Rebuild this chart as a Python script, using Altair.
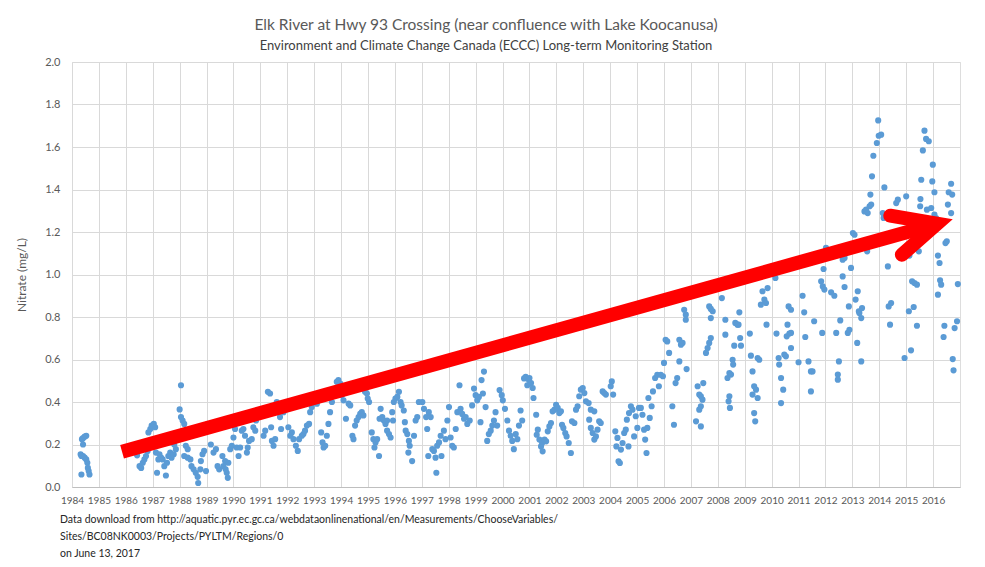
import altair as alt
import pandas as pd

# ---- data: sample date (decimal year) and nitrate (mg/L) ----
yr_a = [1984.35, 1984.37, 1984.41, 1984.47, 1984.53, 1984.41, 1984.32, 1984.41, 1984.47, 1984.53,
        1984.57, 1984.59, 1984.62, 1984.65, 1984.35,
        1986.42, 1986.51, 1986.57, 1986.63, 1986.69, 1986.75, 1986.81, 1986.84, 1986.91, 1986.96,
        1987.04, 1987.09, 1987.12, 1987.16, 1987.21, 1987.25, 1987.31, 1987.37, 1987.43, 1987.49,
        1987.53, 1987.58, 1987.65, 1987.70, 1987.78, 1987.80, 1987.86,
        1988.00, 1988.05, 1988.05, 1988.11, 1988.17, 1988.23, 1988.30, 1988.17, 1988.30, 1988.40,
        1988.44, 1988.52, 1988.60, 1988.67, 1988.69, 1988.77, 1988.79, 1988.85, 1988.91, 1988.98,
        1989.16, 1989.26, 1989.35, 1989.41, 1989.47]
no3_a = [0.059, 0.225, 0.230, 0.237, 0.241, 0.200, 0.154, 0.146, 0.138, 0.130,
         0.114, 0.090, 0.075, 0.059, 0.146,
         0.149, 0.098, 0.090, 0.114, 0.130, 0.146, 0.170, 0.257, 0.273, 0.289,
         0.297, 0.281, 0.162, 0.067, 0.130, 0.154, 0.138, 0.130, 0.098, 0.054,
         0.114, 0.146, 0.162, 0.138, 0.154, 0.200, 0.178,
         0.365, 0.479, 0.329, 0.313, 0.297, 0.194, 0.178, 0.146, 0.138, 0.130,
         0.098, 0.083, 0.067, 0.048, 0.019, 0.083, 0.122, 0.154, 0.170, 0.075,
         0.200, 0.162, 0.178, 0.098, 0.083]

yr_b = [1989.59, 1989.63, 1989.69, 1989.75, 1989.79, 1989.71, 1989.81, 1989.88, 1989.94, 1990.00,
        1990.06, 1990.12, 1990.19, 1990.25, 1990.31, 1990.37, 1990.43, 1990.50, 1990.53, 1990.58,
        1990.68, 1990.74, 1990.81, 1990.84, 1990.93, 1990.99, 1991.12, 1991.18, 1991.28, 1991.36,
        1991.40, 1991.43, 1991.49, 1991.55, 1991.61, 1991.67, 1991.73, 1991.77, 1991.86, 1991.92,
        1992.04, 1992.11, 1992.17, 1992.23, 1992.32, 1992.39, 1992.44, 1992.54, 1992.60, 1992.66,
        1992.73, 1992.81, 1992.85, 1992.91, 1993.01, 1993.10, 1993.18, 1993.26, 1993.31, 1993.35,
        1993.41, 1993.47, 1993.53, 1993.59, 1993.66, 1993.84, 1993.90, 1993.97, 1994.03, 1994.09,
        1994.18, 1994.28, 1994.34, 1994.42, 1994.46, 1994.52, 1994.58, 1994.65, 1994.71, 1994.77,
        1994.83, 1994.89, 1994.96, 1994.99, 1995.04, 1995.14, 1995.20, 1995.24]
no3_b = [0.146, 0.098, 0.122, 0.067, 0.043, 0.083, 0.114, 0.178, 0.194, 0.233,
         0.273, 0.186, 0.146, 0.186, 0.265, 0.273, 0.241, 0.162, 0.186, 0.217,
         0.225, 0.281, 0.265, 0.313, 0.329, 0.344, 0.241, 0.265, 0.448, 0.440,
         0.281, 0.217, 0.194, 0.225, 0.400, 0.352, 0.329, 0.273, 0.352, 0.368,
         0.281, 0.241, 0.257, 0.225, 0.194, 0.170, 0.225, 0.241, 0.249, 0.265,
         0.289, 0.297, 0.352, 0.376, 0.400, 0.392, 0.416, 0.257, 0.210, 0.186,
         0.194, 0.241, 0.297, 0.352, 0.400, 0.495, 0.503, 0.487, 0.432, 0.408,
         0.321, 0.392, 0.384, 0.241, 0.225, 0.289, 0.313, 0.329, 0.344, 0.352,
         0.337, 0.448, 0.440, 0.416, 0.400, 0.257, 0.225, 0.186]

yr_c = [1995.28, 1995.34, 1995.41, 1995.43, 1995.47, 1995.53, 1995.59, 1995.65, 1995.71, 1995.78,
        1995.84, 1995.71, 1995.90, 1995.93, 1995.96, 1996.02, 1996.09, 1996.15, 1996.21, 1996.25,
        1996.33, 1996.37, 1996.40, 1996.46, 1996.52, 1996.55, 1996.50, 1996.64, 1996.71, 1996.77,
        1996.83, 1996.89, 1997.02, 1997.08, 1997.16, 1997.20, 1997.26, 1997.33, 1997.24, 1997.39,
        1997.45, 1997.51, 1997.54, 1997.57, 1997.64, 1997.70, 1997.73, 1997.82, 1997.88, 1997.95,
        1998.01, 1998.07, 1998.13, 1998.19, 1998.26, 1998.32, 1998.40, 1998.44, 1998.50, 1998.57,
        1998.63, 1998.69, 1998.78, 1998.87, 1998.94, 1999.00, 1999.06, 1999.12, 1999.18, 1999.22,
        1999.27, 1999.31, 1999.37, 1999.43, 1999.49, 1999.56, 1999.62, 1999.68, 1999.74, 1999.80,
        1999.89, 1999.97, 2000.01, 2000.09, 2000.18, 2000.24, 2000.30, 2000.36, 2000.42, 2000.49,
        2000.55, 2000.61, 2000.67, 2000.73, 2000.80, 2000.86, 2000.92, 2000.98]
no3_c = [0.210, 0.225, 0.146, 0.321, 0.368, 0.329, 0.313, 0.297, 0.265, 0.249,
         0.233, 0.313, 0.352, 0.313, 0.400, 0.416, 0.424, 0.448, 0.400, 0.384,
         0.360, 0.305, 0.265, 0.249, 0.217, 0.194, 0.162, 0.122, 0.241, 0.313,
         0.329, 0.400, 0.400, 0.368, 0.329, 0.273, 0.352, 0.329, 0.146, 0.178,
         0.170, 0.138, 0.067, 0.194, 0.210, 0.241, 0.146, 0.265, 0.225, 0.313,
         0.376, 0.233, 0.194, 0.186, 0.273, 0.352, 0.479, 0.368, 0.344, 0.321,
         0.329, 0.297, 0.313, 0.384, 0.463, 0.432, 0.408, 0.424, 0.305, 0.503,
         0.440, 0.543, 0.376, 0.217, 0.249, 0.265, 0.289, 0.313, 0.352, 0.289,
         0.456, 0.432, 0.408, 0.368, 0.313, 0.265, 0.241, 0.217, 0.178, 0.249,
         0.225, 0.289, 0.360, 0.313, 0.511, 0.519, 0.479, 0.503]

yr_d = [2001.00, 2001.06, 2001.12, 2001.15, 2001.25, 2001.31, 2001.27, 2001.37, 2001.43, 2001.49,
        2001.47, 2001.56, 2001.62, 2001.68, 2001.74, 2001.80, 2001.86, 2001.93, 2001.99, 2002.05,
        2002.11, 2002.17, 2002.21, 2002.26, 2002.33, 2002.38, 2002.46, 2002.54, 2002.58, 2002.67,
        2002.73, 2002.79, 2002.85, 2002.91, 2002.98, 2003.04, 2003.10, 2003.20, 2003.28, 2003.22,
        2003.41, 2003.28, 2003.35, 2003.41, 2003.47, 2003.53, 2003.59, 2003.65, 2003.72, 2003.78,
        2003.84, 2004.02, 2004.06, 2004.11, 2004.19, 2004.23, 2004.27, 2004.31, 2004.36, 2004.40,
        2004.46, 2004.52, 2004.58, 2004.62, 2004.68, 2004.70, 2004.77, 2004.83, 2004.89, 2004.95,
        2005.01, 2005.07, 2005.14, 2005.20, 2005.26, 2005.30, 2005.35, 2005.38, 2005.42, 2005.47,
        2005.54, 2005.59, 2005.67, 2005.75, 2005.81, 2005.88, 2005.96, 2006.00, 2006.06, 2006.12,
        2006.19, 2006.31, 2006.37, 2006.43, 2006.49]
no3_d = [0.513, 0.489, 0.466, 0.419, 0.340, 0.270, 0.246, 0.223, 0.191, 0.168,
         0.207, 0.223, 0.215, 0.262, 0.285, 0.301, 0.356, 0.364, 0.387, 0.372,
         0.348, 0.356, 0.293, 0.278, 0.254, 0.238, 0.207, 0.160, 0.309, 0.301,
         0.364, 0.380, 0.427, 0.458, 0.466, 0.442, 0.403, 0.395, 0.364, 0.317,
         0.356, 0.278, 0.254, 0.223, 0.238, 0.270, 0.309, 0.301, 0.450, 0.442,
         0.435, 0.474, 0.497, 0.435, 0.262, 0.191, 0.231, 0.121, 0.113, 0.176,
         0.207, 0.254, 0.270, 0.317, 0.191, 0.348, 0.380, 0.364, 0.238, 0.333,
         0.278, 0.372, 0.372, 0.340, 0.270, 0.223, 0.160, 0.278, 0.419, 0.325,
         0.380, 0.450, 0.513, 0.528, 0.474, 0.528, 0.521, 0.584, 0.693, 0.685,
         0.631, 0.380, 0.293, 0.489, 0.513]

yr_e = [2006.57, 2006.63, 2006.69, 2006.75, 2006.81, 2006.81, 2006.57, 2006.84, 2007.25, 2007.31,
        2007.37, 2007.43, 2007.46, 2007.37, 2007.31, 2007.19, 2007.37, 2007.56, 2007.62, 2007.68,
        2007.74, 2007.68, 2007.74, 2007.74, 2007.81, 2008.15, 2008.28, 2008.28, 2008.36, 2008.43,
        2008.49, 2008.55, 2008.57, 2008.43, 2008.40, 2008.45, 2008.65, 2008.73, 2008.80, 2008.77,
        2008.83, 2008.61, 2008.86, 2009.19, 2009.23, 2009.29, 2009.35, 2009.42, 2009.48, 2009.29,
        2009.35, 2009.39, 2009.48, 2009.54, 2009.60, 2009.66, 2009.73, 2009.79, 2009.85, 2009.81,
        2010.14, 2010.18, 2010.26, 2010.28, 2010.35, 2010.43, 2010.35, 2010.47, 2010.53, 2010.56,
        2010.59, 2010.66, 2010.72, 2010.72, 2010.63, 2010.72, 2011.00, 2011.15, 2011.21, 2011.25,
        2011.37, 2011.46, 2011.52, 2011.46, 2011.58]
no3_e = [0.693, 0.670, 0.678, 0.834, 0.811, 0.787, 0.591, 0.555, 0.474, 0.435,
         0.427, 0.411, 0.489, 0.380, 0.364, 0.309, 0.285, 0.631, 0.654, 0.678,
         0.701, 0.850, 0.838, 0.795, 0.827, 0.889, 0.787, 0.717, 0.513, 0.536,
         0.529, 0.599, 0.576, 0.427, 0.403, 0.372, 0.772, 0.764, 0.822, 0.764,
         0.701, 0.665, 0.665, 0.722, 0.618, 0.544, 0.474, 0.458, 0.419, 0.435,
         0.348, 0.309, 0.607, 0.599, 0.858, 0.921, 0.882, 0.866, 0.936, 0.764,
         0.984, 0.722, 0.607, 0.576, 0.513, 0.458, 0.395, 0.623, 0.615, 0.709,
         0.764, 0.722, 0.725, 0.654, 0.850, 0.834, 0.587, 0.900, 0.822, 0.706,
         0.591, 0.544, 0.544, 0.450, 0.780]

yr_f = [2011.84, 2011.90, 2011.96, 2012.02, 2011.93, 2011.88, 2012.21, 2012.33, 2012.40, 2012.46,
        2012.46, 2012.50, 2012.55, 2012.64, 2012.64, 2012.71, 2012.71, 2012.83, 2012.89, 2012.87,
        2012.95, 2013.02, 2013.08, 2013.12, 2013.20, 2013.24, 2013.26, 2013.33, 2013.36, 2013.18,
        2013.33, 2013.45, 2013.51, 2013.55, 2013.57, 2013.64, 2013.70, 2013.67, 2013.73, 2013.78,
        2013.91, 2013.98, 2014.07, 2013.96, 2014.13, 2014.16, 2014.19, 2014.32, 2014.35, 2014.44,
        2014.40, 2014.63, 2014.69, 2015.00, 2014.94, 2015.10, 2015.18, 2015.12, 2015.22, 2015.31,
        2015.40, 2015.28, 2015.40, 2015.47, 2015.52, 2015.53, 2015.56, 2015.62, 2015.68, 2015.74,
        2015.84, 2015.77, 2015.93, 2015.97, 2015.99, 2016.05, 2016.05, 2016.11, 2016.18, 2016.24,
        2016.26, 2016.30, 2016.18, 2016.46, 2016.51, 2016.55, 2016.58, 2016.67, 2016.71, 2016.67,
        2016.39, 2016.42, 2016.73, 2016.76, 2016.80, 2016.89, 2016.92]
no3_f = [0.968, 0.944, 0.929, 1.125, 1.026, 0.725, 0.916, 0.900, 0.725, 0.529,
         0.505, 0.591, 0.784, 0.991, 1.070, 0.941, 1.078, 0.725, 0.740, 0.850,
         1.031, 1.195, 1.187, 0.882, 0.921, 0.827, 0.819, 0.795, 0.842, 0.678,
         0.591, 1.297, 1.305, 1.109, 1.289, 1.321, 1.329, 1.376, 1.462, 1.559,
         1.619, 1.653, 1.658, 1.725, 1.289, 1.266, 1.410, 1.038, 0.850, 0.866,
         0.764, 1.336, 1.352, 1.368, 0.607, 0.827, 0.643, 1.089, 0.968, 0.960,
         0.952, 0.847, 0.759, 1.109, 1.321, 1.355, 1.446, 1.584, 1.677, 1.638,
         1.627, 1.305, 1.313, 1.438, 1.517, 1.387, 1.282, 1.266, 1.089, 1.054,
         0.973, 0.952, 0.905, 1.148, 1.156, 1.329, 1.387, 1.427, 1.376, 1.289,
         0.706, 0.759, 0.602, 0.549, 0.748, 0.780, 0.955]

# red trend arrow (annotation), in data units
shaft_x = [1985.86, 2016.15]
shaft_y = [0.166, 1.239]
head_x = [2014.41, 2016.15, 2014.84]
head_y = [1.277, 1.239, 1.093]

x_ticks = list(range(1984, 2017))
y_ticks = [0.0, 0.2, 0.4, 0.6, 0.8, 1.0, 1.2, 1.4, 1.6, 1.8, 2.0]

footnote = [
    "Data download from http://aquatic.pyr.ec.gc.ca/webdataonlinenational/en/Measurements/ChooseVariables/",
    "Sites/BC08NK0003/Projects/PYLTM/Regions/0",
    "on June 13, 2017",
]

# ---- build ----
years = yr_a + yr_b + yr_c + yr_d + yr_e + yr_f
vals = no3_a + no3_b + no3_c + no3_d + no3_e + no3_f
df = pd.DataFrame({"year": years, "nitrate": vals})
shaft = pd.DataFrame({"year": [shaft_x[0]], "nitrate": [shaft_y[0]],
                      "year2": [shaft_x[1]], "nitrate2": [shaft_y[1]]})
head = pd.DataFrame({"year": head_x, "nitrate": head_y, "o": [0, 1, 2]})

FONT = "Lato"
GREY = "#595959"
GRID = "#D9D9D9"

xscale = alt.Scale(domain=[1984, 2017], nice=False, zero=False)
yscale = alt.Scale(domain=[0, 2], nice=False, zero=True)
xaxis = alt.Axis(values=x_ticks, format="d", title=None, labelFontSize=10,
                 labelColor=GREY, labelFont=FONT, grid=True, gridColor=GRID,
                 ticks=False, domainColor="#BFBFBF", labelPadding=8,
                 labelFlush=False, labelOverlap=False, labelSeparation=0)
yaxis = alt.Axis(values=y_ticks, format=".1f", title="Nitrate (mg/L)",
                 titleFontSize=12, titleFontWeight="normal", titleColor=GREY,
                 titleFont=FONT, titlePadding=16, labelFontSize=11,
                 labelColor=GREY, labelFont=FONT, labelPadding=12,
                 domain=False, ticks=False, grid=True, gridColor=GRID)

X = alt.X("year:Q", scale=xscale, axis=xaxis)
Y = alt.Y("nitrate:Q", scale=yscale, axis=yaxis)

points = alt.Chart(df).mark_circle(size=38, color="#5B9BD5", opacity=1).encode(x=X, y=Y)

arrow_shaft = alt.Chart(shaft).mark_rule(color="#FF0000", strokeWidth=14, strokeCap="butt").encode(
    x=X, y=Y, x2="year2:Q", y2="nitrate2:Q",
)
arrow_head = alt.Chart(head).mark_line(color="#FF0000", strokeWidth=14, strokeCap="round",
                                        strokeJoin="miter").encode(
    x=X, y=Y, order="o:Q",
)

notes = [
    alt.Chart(pd.DataFrame({"t": [t]})).mark_text(align="left", baseline="middle", font=FONT,
                                                  fontSize=10.5, color="#262626").encode(
        text="t:N", x=alt.value(-12), y=alt.value(458 + 17 * i))
    for i, t in enumerate(footnote)
]

chart = alt.layer(points, arrow_shaft, arrow_head, *notes).properties(
    width=888, height=425,
    autosize=alt.AutoSizeParams(type="none"),
    padding={"left": 64, "top": 54, "right": 17, "bottom": 72},
    title=alt.TitleParams(
        text="Elk River at Hwy 93 Crossing (near confluence with Lake Koocanusa)",
        subtitle="Environment and Climate Change Canada (ECCC) Long-term Monitoring Station",
        font=FONT, fontSize=15.5, fontWeight="normal", color=GREY,
        subtitleFont=FONT, subtitleFontSize=13, subtitleColor="#404040",
        anchor="middle", dx=-30, offset=3, subtitlePadding=7,
    ),
).configure_view(stroke=None).configure(background="white").configure_axisX(
    labelOverlap=False, labelSeparation=0
)

chart.save("out.html", embed_options={"renderer": "svg", "actions": False})
